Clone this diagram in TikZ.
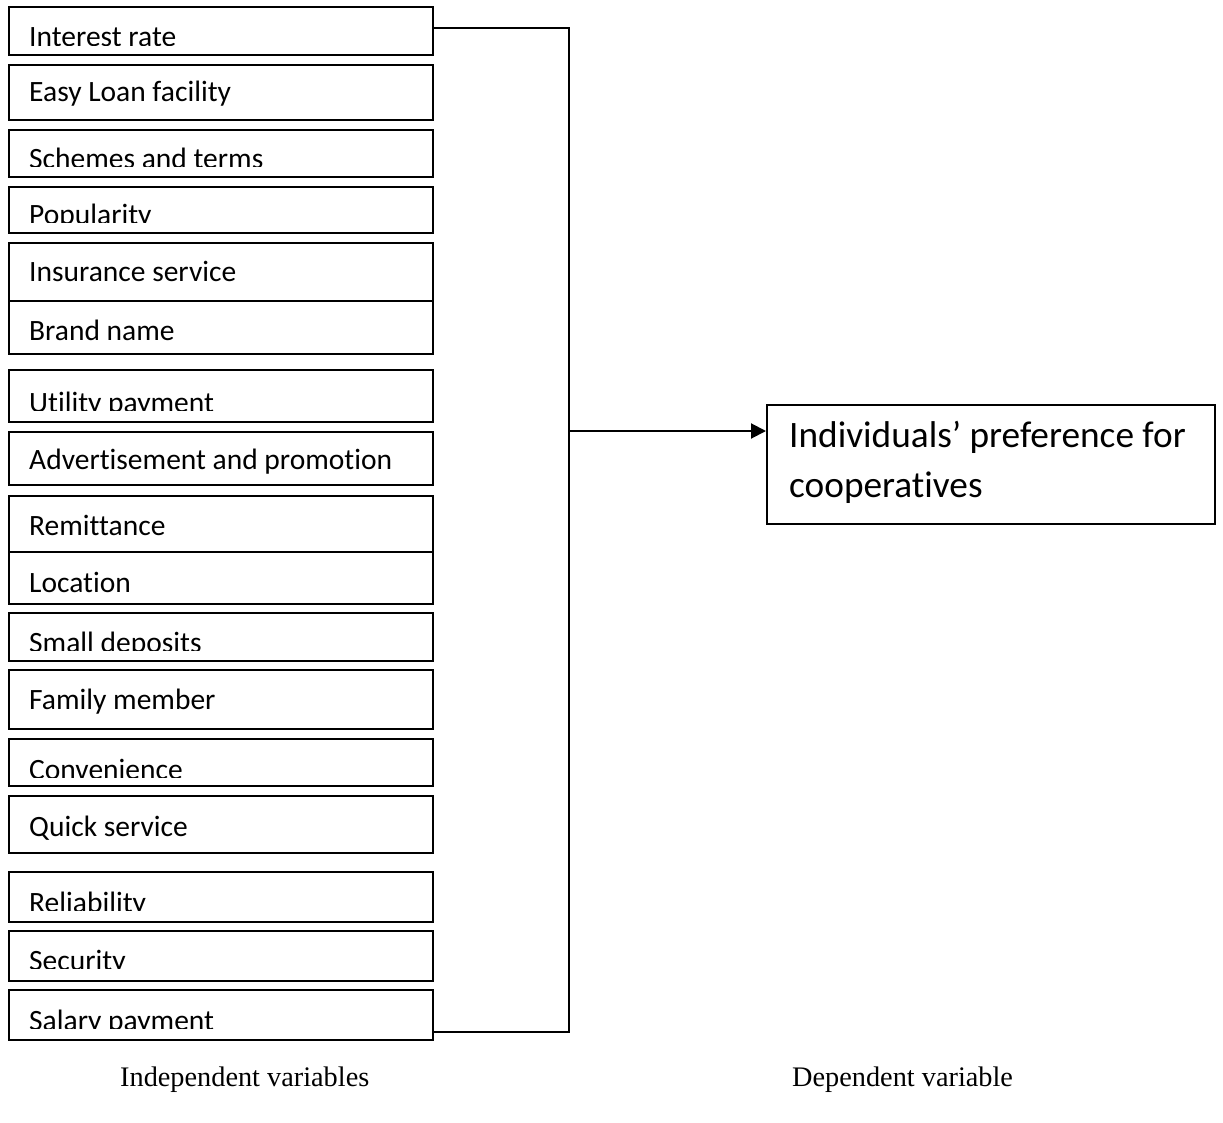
\documentclass[tikz,border=0pt]{standalone}
\usepackage{fontspec}
\setmainfont{Liberation Serif}
\newfontfamily\calib[Ligatures={NoCommon,NoRequired,NoContextual,NoRare}]{Carlito}
\usetikzlibrary{fit,arrows.meta}
\tikzset{
  vbox/.style={draw=black, line width=2pt, inner sep=0pt, fit={#1}},
  lbl/.style={inner sep=0pt, font=\calib\fontsize{29.5}{35}\selectfont},
  dlbl/.style={inner sep=0pt, font=\calib\fontsize{37.3}{44}\selectfont},
  captxt/.style={inner sep=0pt, font=\fontsize{28.3}{34}\selectfont},
  conn/.style={draw=black, line width=2pt},
  arr/.style={conn, -{Triangle[length=15pt,width=15pt]}}
}
\begin{document}
\begin{tikzpicture}[x=1pt,y=-1pt]
\useasboundingbox (0,0) rectangle (1223,1123);
\foreach \i/\t/\b/\base/\cl/\txt in {
  1/7/55/46.5/46/Interest rate,
  2/65/120/102/120/Easy Loan facility,
  3/130/177/169/167/Schemes and terms,
  4/187/233/225/223/Popularity,
  5/243/301/282/301/Insurance service,
  6/301/354/340/354/Brand name,
  7/370/422/412/410/Utility payment,
  8/432/485/469/485/Advertisement and promotion,
  9/496/552/535/552/Remittance,
  10/552/604/592/604/Location,
  11/613/661/652/650/Small deposits,
  12/670/729/709/729/Family member,
  13/739/786/779/777/Convenience,
  14/796/853/836/853/Quick service,
  15/872/922/912/910/Reliability,
  16/931/981/970/968/Security,
  17/990/1040/1030/1028/Salary payment}{
  \node[vbox={(9,\t) (433,\b)}] (b\i) {};
  \begin{scope}
    \clip (9,\t) rectangle (433,\cl);
    \node[lbl, anchor=base west] (t\i) at (29,\base) {\txt};
  \end{scope}
}
\node[vbox={(767,405) (1215,524)}] (dv) {};
\node[dlbl, anchor=base west] (dv1) at (789,447) {Individuals’ preference for};
\node[dlbl, anchor=base west] (dv2) at (789,497) {cooperatives};
\coordinate (j1) at (569,28);
\coordinate (j2) at (569,1032);
\coordinate (ja) at (569,431);
\draw[conn] (b1.east |- j1) -- (j1) -- (j2) -- (b17.east |- j2);
\draw[arr] (ja) -- (ja -| dv.west);
\node[captxt, anchor=base west] (iv) at (120,1086) {Independent variables};
\node[captxt, anchor=base west] (dvl) at (792,1086) {Dependent variable};
\end{tikzpicture}
\end{document}
